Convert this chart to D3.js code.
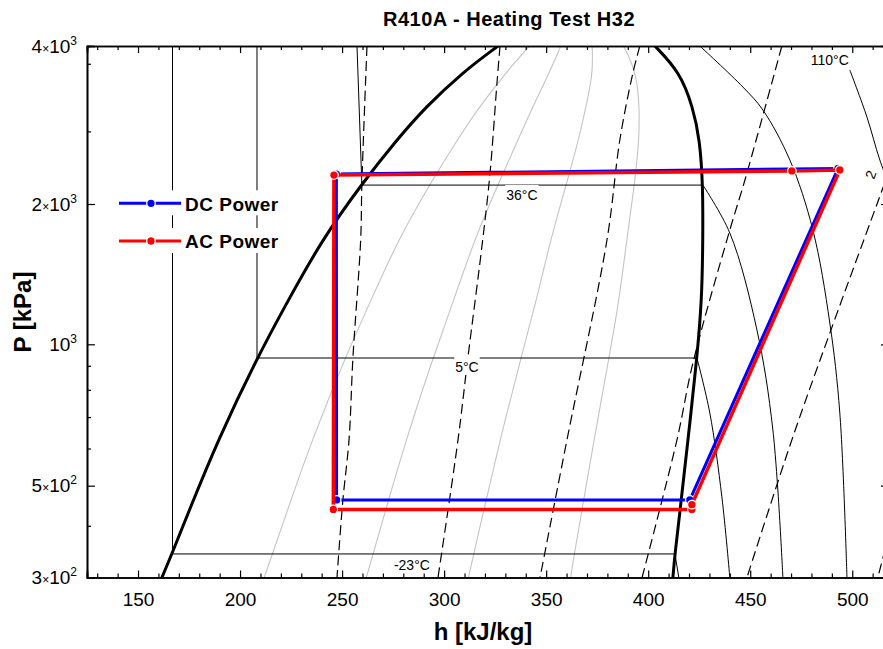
<!DOCTYPE html>
<html>
<head>
<meta charset="utf-8">
<script src="https://cdn.jsdelivr.net/npm/d3@7"></script>
<style>
  body { margin: 0; background: #fff; }
  text { font-family: "Liberation Sans", Arial, sans-serif; }
</style>
</head>
<body>
<div id="chart"></div>
<script>
// saturation dome (P in kPa, h in kJ/kg)
var domeP    = [300, 342, 430, 626, 935, 1245, 1674, 2173, 2648, 3061, 3568, 4000];
var domeHliq = [161.7, 166.6, 174.6, 189.2, 208.3, 223.7, 240.1, 259.2, 276.7, 291.0, 309.2, 326.4];
var domeHvap = [412.1, 413.1, 415.5, 419.5, 423.9, 426.3, 426.8, 426.8, 425.3, 421.9, 415.5, 403.3];
var qualities = [0.2, 0.4, 0.6, 0.8];

// isotherms: liquid part + two-phase plateau
var isoNames  = ["-23°C", "5°C", "36°C"];
var isoPsat   = [342, 935, 2173];
var isoHtop   = [166.9, 208.3, 257.3];   // liquid line at the top of the plot
var isoHliq   = [166.9, 208.3, 259.7];
var isoHvap   = [413.1, 423.9, 426.8];
// superheated parts
var superM23  = [[413.1, 342], [415.0, 300]];
var super5    = [[423.9, 935], [430.2, 714], [436.1, 470], [440.0, 300]];
var super36   = [[426.8, 2173], [440.0, 1733], [453.3, 1073], [461.1, 657], [466.0, 300]];
var super70   = [[425.3, 4000], [446.4, 3341], [456.2, 3021], [469.4, 2426], [480.7, 1759], [489.0, 1111], [493.9, 714], [497.4, 300]];
var super110  = [[498.8, 3600], [507.2, 2929], [513.5, 2426], [520.9, 2035]];

// isentropes (dashed)
var s1 = [[262.2, 4000], [259.7, 2193], [259.1, 1674], [255.3, 935], [253.4, 626], [250.4, 462], [247.5, 300]];
var s2 = [[327.4, 4000], [325.9, 3401], [322.5, 2291], [318.9, 1674], [311.7, 940], [306.8, 626], [297.0, 300]];
var s3 = [[395.9, 4000], [392.5, 3552], [386.1, 2648], [379.8, 1674], [360.2, 626], [347.0, 300]];
var s4 = [[465.5, 4000], [447.4, 2222], [440.0, 1759], [421.9, 912], [414.1, 626], [397.0, 300]];
var s5 = [[520.9, 2479], [515.0, 2145], [489.0, 1057], [470.4, 626], [448.4, 300]];
var s6 = [[519.9, 413], [512.5, 300]];

// labels
var labelText = ["36°C", "5°C", "-23°C", "110°C"];
var labelH    = [338.1, 311.2, 284.2, 489.0];
var labelP    = [2080, 895, 321.6, 3761];

// cycles
var dcH = [247.3, 420.4, 493.0, 247.2, 247.3];
var dcP = [462, 462, 2337, 2281, 462];
var acH = [245.7, 421.4, 421.4, 493.9, 470.4, 246.0, 245.7];
var acP = [438, 438, 450, 2322, 2312, 2271, 438];

// axes
var xMajor = [150, 200, 250, 300, 350, 400, 450, 500];
var yMajor = [300, 500, 1000, 2000, 4000];
var yMinor = [400, 600, 700, 800, 900, 2750, 3700];
var yMant  = ["3", "5", "", "2", "4"];
var yExp   = ["2", "2", "3", "3", "3"];

var width = 883, height = 649;
var pLeft = 87, pRight = 889, pTop = 46, pBottom = 577.5;

var x = d3.scaleLinear().domain([125, 518]).range([pLeft, pRight]);
var y = d3.scaleLog()
    .domain([300, 500, 1000, 2000, 4000])
    .range([pBottom, 485.7, 344.3, 204, pTop]);

var svg = d3.select("#chart").append("svg")
    .attr("width", width)
    .attr("height", height);

svg.append("clipPath").attr("id", "clip")
    .append("rect")
    .attr("x", pLeft).attr("y", pTop)
    .attr("width", pRight - pLeft).attr("height", pBottom - pTop);

var plot = svg.append("g").attr("clip-path", "url(#clip)");

var straight = d3.line().x(d => x(d[0])).y(d => y(d[1]));
var smooth = d3.line().curve(d3.curveCatmullRom.alpha(0.5)).x(d => x(d[0])).y(d => y(d[1]));
var basis = d3.line().curve(d3.curveBasis).x(d => x(d[0])).y(d => y(d[1]));

// quality lines
qualities.forEach(function (q) {
    var pts = domeP.map((p, i) => [domeHliq[i] + q * (domeHvap[i] - domeHliq[i]), p]);
    plot.append("path").attr("d", basis(pts))
        .attr("fill", "none").attr("stroke", "#c4c4c4").attr("stroke-width", 1.1);
});

// isotherms
isoNames.forEach(function (n, i) {
    var pts = [[isoHtop[i], 4000], [isoHliq[i], isoPsat[i]], [isoHvap[i], isoPsat[i]]];
    plot.append("path").attr("d", straight(pts))
        .attr("fill", "none").attr("stroke", "#000").attr("stroke-width", 1);
});
[superM23, super5, super36, super70, super110].forEach(function (pts) {
    plot.append("path").attr("d", smooth(pts))
        .attr("fill", "none").attr("stroke", "#000").attr("stroke-width", 1);
});

// isentropes
[s1, s2, s3, s4, s5, s6].forEach(function (pts) {
    plot.append("path").attr("d", smooth(pts))
        .attr("fill", "none").attr("stroke", "#000").attr("stroke-width", 1.2)
        .attr("stroke-dasharray", "10,5");
});

// saturation dome
var liq = domeP.map((p, i) => [domeHliq[i], p]);
var vap = domeP.map((p, i) => [domeHvap[i], p]);
[liq, vap].forEach(function (pts) {
    plot.append("path").attr("d", basis(pts))
        .attr("fill", "none").attr("stroke", "#000").attr("stroke-width", 3);
});

// temperature labels with white boxes
labelText.forEach(function (t, i) {
    var g = plot.append("g");
    var txt = g.append("text")
        .attr("x", x(labelH[i])).attr("y", y(labelP[i]) + 5)
        .attr("text-anchor", "middle")
        .style("font-size", "14px")
        .text(t);
    var b = txt.node().getBBox();
    g.insert("rect", "text")
        .attr("x", b.x - 1).attr("y", b.y - 2)
        .attr("width", b.width + 2).attr("height", b.height + 2)
        .attr("fill", "#fff");
});
plot.append("text")
    .attr("transform", "translate(" + 874 + "," + 180 + ") rotate(-70)")
    .style("font-size", "14px")
    .text("2");

// cycles
function drawCycle(hs, ps, color, lw) {
    var pts = hs.map((h, i) => [h, ps[i]]);
    plot.append("path").attr("d", straight(pts))
        .attr("fill", "none").attr("stroke", color).attr("stroke-width", lw);
    plot.selectAll(null).data(pts.slice(0, pts.length - 1)).enter()
        .append("circle")
        .attr("cx", d => x(d[0])).attr("cy", d => y(d[1]))
        .attr("r", 4.3)
        .attr("fill", color).attr("stroke", "#fff").attr("stroke-width", 1.3);
}
drawCycle(dcH, dcP, "#0000ff", 3);
drawCycle(acH, acP, "#ff0000", 3.5);

// legend
var legend = [["DC Power", "#0000ff", 203.3], ["AC Power", "#ff0000", 241]];
legend.forEach(function (l) {
    svg.append("rect").attr("x", 107).attr("y", l[2] - 13)
        .attr("width", 180).attr("height", 25).attr("fill", "#fff");
    svg.append("line").attr("x1", 119).attr("x2", 181)
        .attr("y1", l[2]).attr("y2", l[2])
        .attr("stroke", l[1]).attr("stroke-width", 3);
    svg.append("circle").attr("cx", 151).attr("cy", l[2]).attr("r", 4.3)
        .attr("fill", l[1]).attr("stroke", "#fff").attr("stroke-width", 1.3);
    svg.append("text").attr("x", 185).attr("y", l[2] + 7.3)
        .style("font-size", "19px").style("font-weight", "bold")
        .style("letter-spacing", "0.5px")
        .text(l[0]);
});

// axes
var xMinor = d3.range(130, 520, 10).filter(v => xMajor.indexOf(v) < 0);

svg.append("g").attr("transform", "translate(0," + pBottom + ")")
    .call(d3.axisBottom(x).tickValues(xMinor).tickSize(-4).tickFormat(""));
svg.append("g").attr("transform", "translate(0," + pBottom + ")")
    .call(d3.axisBottom(x).tickValues(xMajor).tickSize(-7).tickPadding(15).tickFormat(d3.format("d")));
svg.append("g").attr("transform", "translate(0," + pTop + ")")
    .call(d3.axisTop(x).tickValues(xMinor).tickSize(-4).tickFormat(""));
svg.append("g").attr("transform", "translate(0," + pTop + ")")
    .call(d3.axisTop(x).tickValues(xMajor).tickSize(-7).tickFormat(""));

svg.append("g").attr("transform", "translate(" + pLeft + ",0)")
    .call(d3.axisLeft(y).tickValues(yMinor).tickSize(-4).tickFormat(""));
svg.append("g").attr("transform", "translate(" + pLeft + ",0)")
    .call(d3.axisLeft(y).tickValues(yMajor).tickSize(-8).tickFormat(""));
svg.append("g").attr("transform", "translate(" + pRight + ",0)")
    .call(d3.axisRight(y).tickValues(yMajor).tickSize(-8).tickFormat(""));

svg.selectAll(".domain").attr("stroke-width", 1.6);
svg.selectAll(".tick line").attr("stroke-width", 1.2);
svg.selectAll(".tick text").style("font-size", "19px").attr("fill", "#000")
    .style("font-family", "'Liberation Sans', Arial, sans-serif");

// y tick labels, e.g. 4×10³
yMajor.forEach(function (v, i) {
    var t = svg.append("text")
        .attr("x", 77).attr("y", y(v) + 6.5)
        .attr("text-anchor", "end")
        .style("font-size", "19px");
    if (yMant[i]) {
        t.append("tspan").text(yMant[i]);
        t.append("tspan").style("font-size", "12px").text("×");
    }
    t.append("tspan").text("10");
    t.append("tspan").attr("dy", -8).style("font-size", "12px").text(yExp[i]);
});

// titles
svg.append("text").attr("x", 509).attr("y", 26)
    .attr("text-anchor", "middle")
    .style("font-size", "20px").style("font-weight", "bold")
    .style("letter-spacing", "0.5px")
    .text("R410A - Heating Test H32");

svg.append("text").attr("x", 483).attr("y", 640)
    .attr("text-anchor", "middle")
    .style("font-size", "24px").style("font-weight", "bold")
    .text("h [kJ/kg]");

svg.append("text")
    .attr("transform", "translate(31,312) rotate(-90)")
    .attr("text-anchor", "middle")
    .style("font-size", "24px").style("font-weight", "bold")
    .text("P [kPa]");
</script>
</body>
</html>
